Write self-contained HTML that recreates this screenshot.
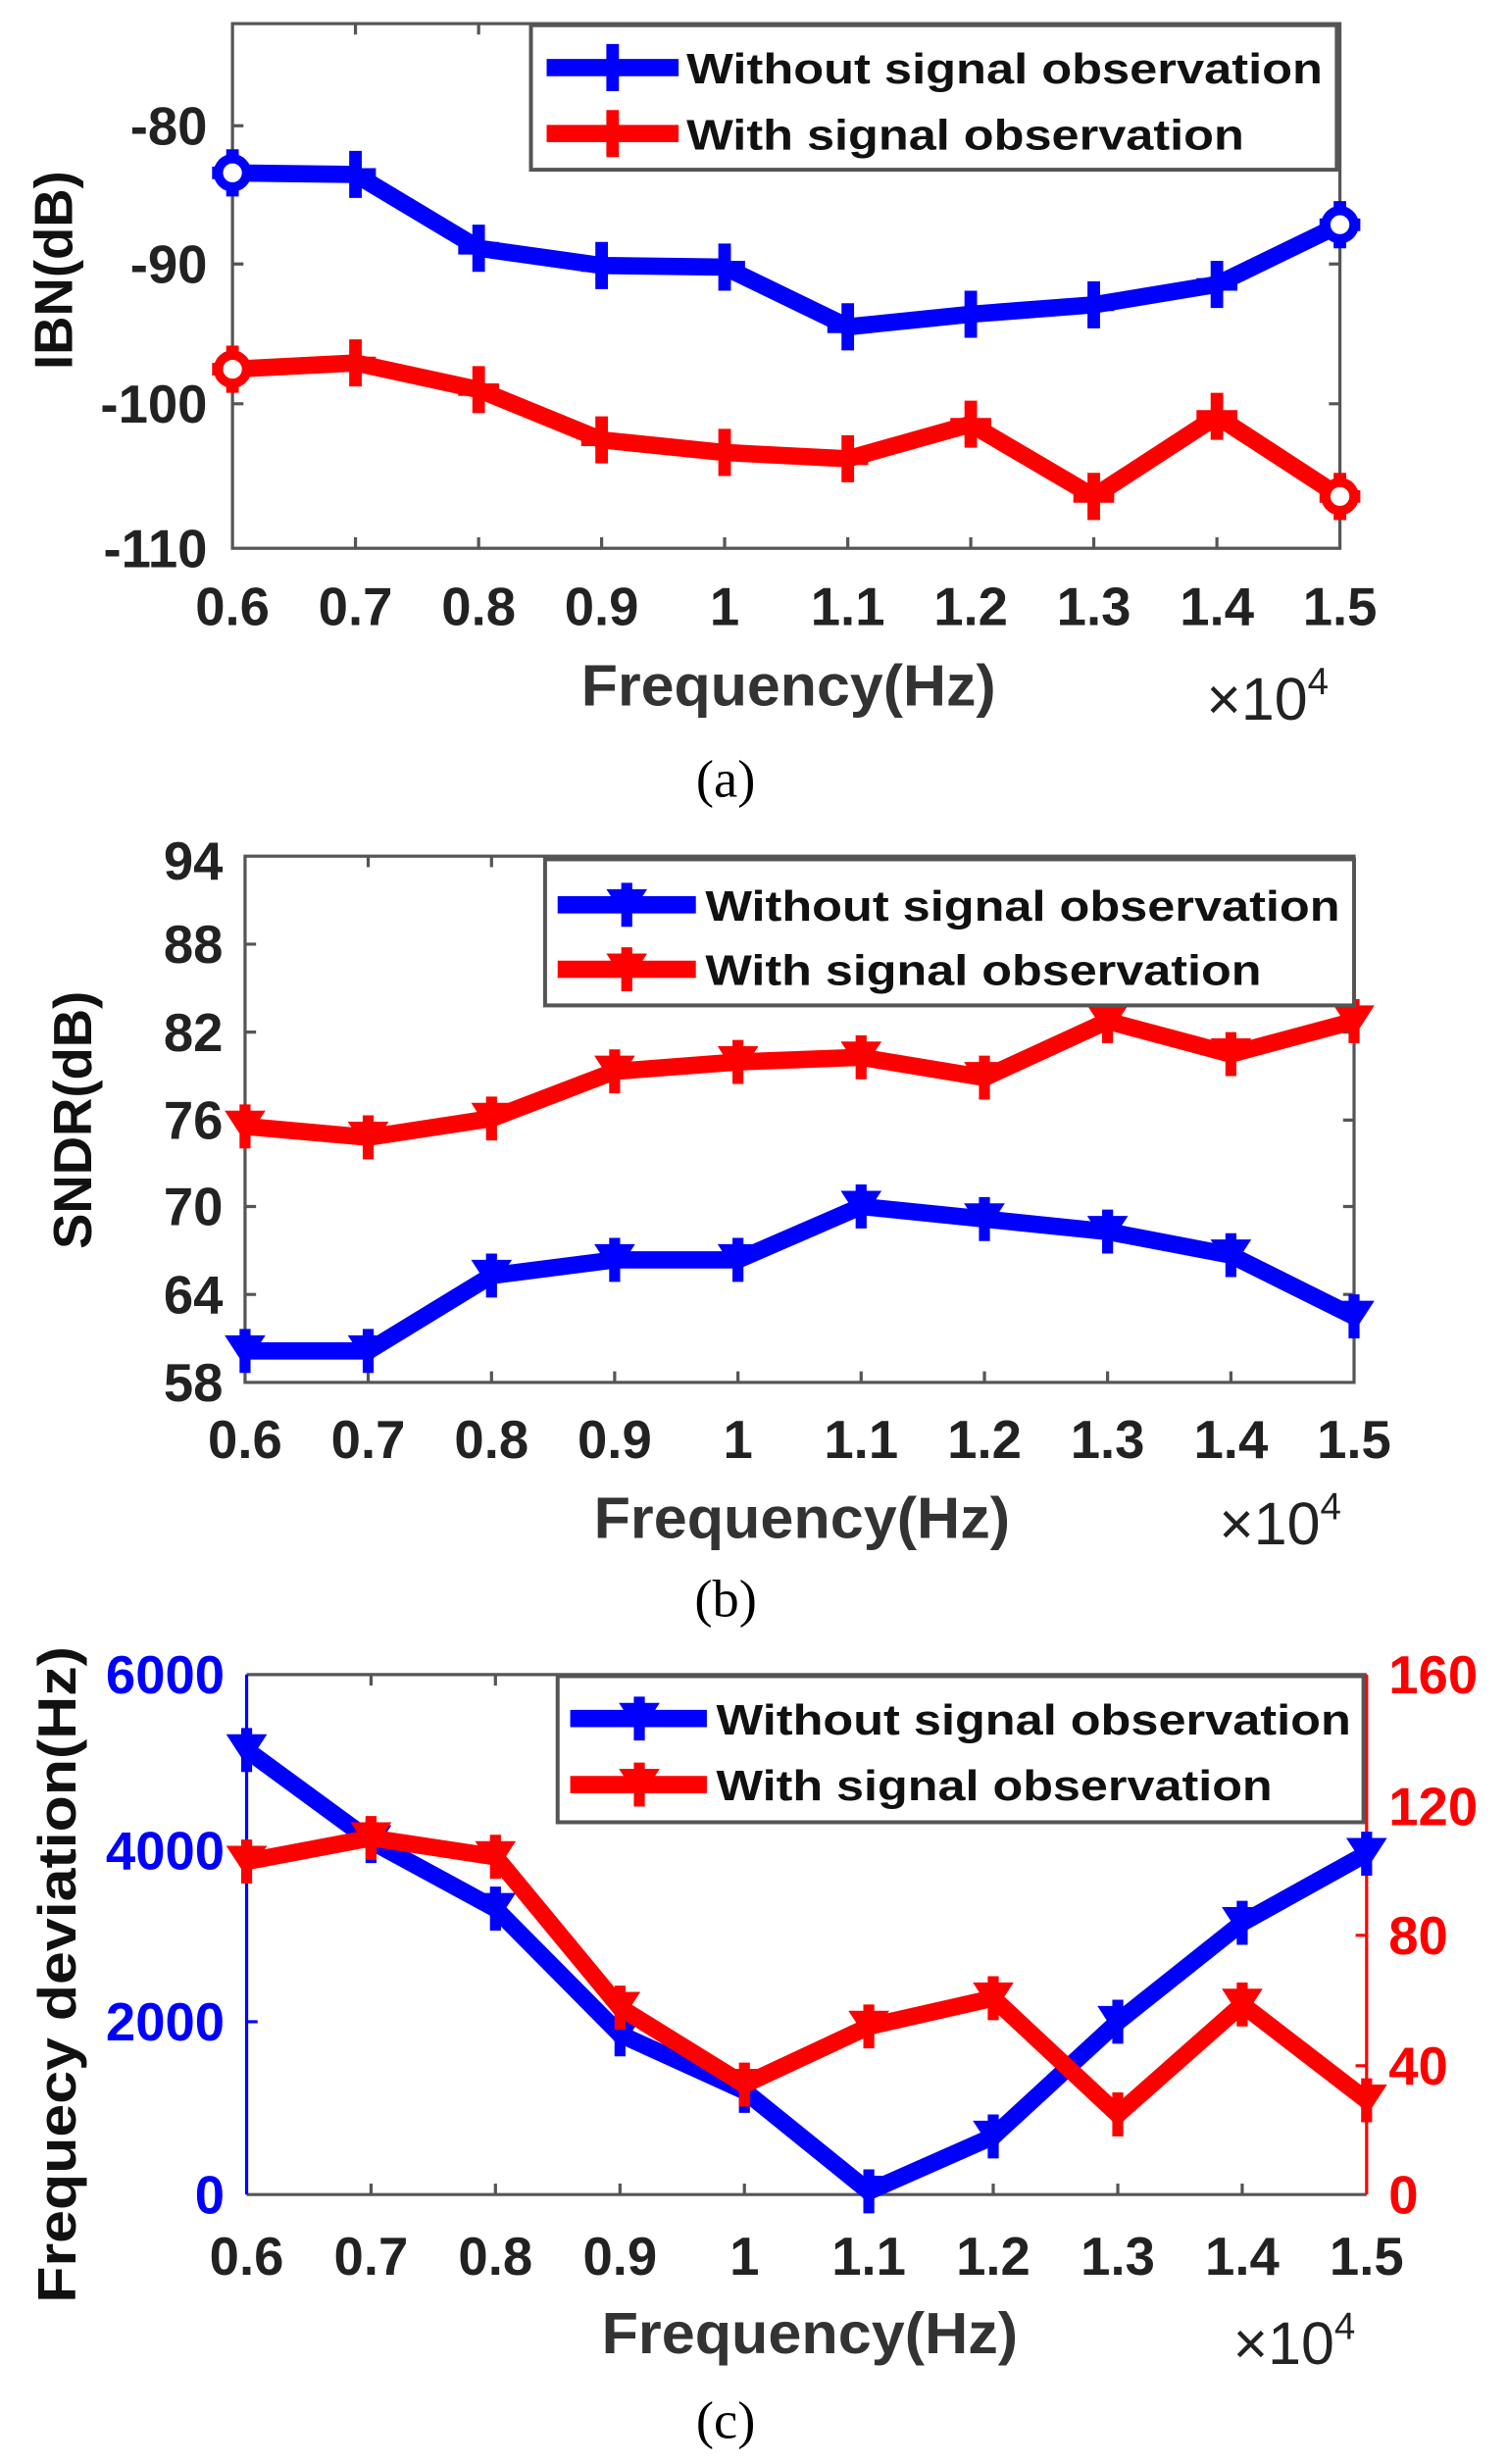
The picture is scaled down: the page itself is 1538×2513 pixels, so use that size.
<!DOCTYPE html>
<html><head><meta charset="utf-8"><style>
html,body{margin:0;padding:0;background:#fff;}
svg{display:block;}
text{font-family:"Liberation Sans",Arial,sans-serif;font-weight:bold;fill:#222;}
.tk{font-size:34px;}
.lg{font-size:27px;fill:#111;}
.xl{font-size:37px;fill:#333;}
.x4{font-weight:normal;font-size:38px;fill:#222;}
.cap{font-family:"Liberation Serif",serif;font-weight:normal;font-size:34px;fill:#000;}
.bl{fill:#00f;}
.rd{fill:#f00;}
</style></head><body>
<svg width="1538" height="2513" viewBox="0 0 960 1568.5" xmlns="http://www.w3.org/2000/svg">
<defs>
<marker id="pb" markerUnits="userSpaceOnUse" markerWidth="30" markerHeight="30" refX="15" refY="15" overflow="visible"><path d="M15 0V30M2 15H28" stroke="#00f" stroke-width="8"/></marker>
<marker id="pr" markerUnits="userSpaceOnUse" markerWidth="30" markerHeight="30" refX="15" refY="15" overflow="visible"><path d="M15 0V30M2 15H28" stroke="#f00" stroke-width="8"/></marker>
<marker id="tb" markerUnits="userSpaceOnUse" markerWidth="30" markerHeight="30" refX="15" refY="15" overflow="visible"><path d="M2 5H28L15 25Z" fill="#00f"/><path d="M15 1V29" stroke="#00f" stroke-width="7"/></marker>
<marker id="tr" markerUnits="userSpaceOnUse" markerWidth="30" markerHeight="30" refX="15" refY="15" overflow="visible"><path d="M2 5H28L15 25Z" fill="#f00"/><path d="M15 1V29" stroke="#f00" stroke-width="7"/></marker>
</defs>

<!-- (a) -->
<rect x="148" y="15" width="705" height="334" fill="none" stroke="#555" stroke-width="2"/>
<g stroke="#555" stroke-width="2">
<path d="M226.3 349v-7M304.7 349v-7M383 349v-7M461.3 349v-7M539.7 349v-7M618 349v-7M696.3 349v-7M774.7 349v-7M226.3 15v7M304.7 15v7M383 15v7M461.3 15v7M539.7 15v7M618 15v7M696.3 15v7M774.7 15v7M148 80h7M148 168h7M148 257h7M853 80h-7M853 168h-7M853 257h-7"/>
</g>
<polyline fill="none" stroke="#00f" stroke-width="11" stroke-linejoin="round" marker-start="url(#pb)" marker-mid="url(#pb)" marker-end="url(#pb)" points="148,110 226.3,111 304.7,158 383,169 461.3,170 539.7,208 618,200 696.3,194 774.7,181 853,143"/>
<polyline fill="none" stroke="#f00" stroke-width="11" stroke-linejoin="round" marker-start="url(#pr)" marker-mid="url(#pr)" marker-end="url(#pr)" points="148,235 226.3,231 304.7,248 383,280 461.3,288 539.7,292 618,270 696.3,316 774.7,265 853,316"/>
<circle cx="148" cy="110" r="9" fill="#fff" stroke="#00f" stroke-width="6"/>
<circle cx="853" cy="143" r="9" fill="#fff" stroke="#00f" stroke-width="6"/>
<circle cx="148" cy="235" r="9" fill="#fff" stroke="#f00" stroke-width="6"/>
<circle cx="853" cy="316" r="9" fill="#fff" stroke="#f00" stroke-width="6"/>
<rect x="338" y="16" width="513" height="92" fill="#fff" stroke="#555" stroke-width="2.5"/>
<path d="M348 43H432" stroke="#00f" stroke-width="11"/><path d="M390 28V58M376 43H404" stroke="#00f" stroke-width="8"/>
<path d="M348 85H432" stroke="#f00" stroke-width="11"/><path d="M390 70V100M376 85H404" stroke="#f00" stroke-width="8"/>
<text class="lg" x="437" y="53" textLength="405" lengthAdjust="spacingAndGlyphs">Without signal observation</text>
<text class="lg" x="437" y="95" textLength="355" lengthAdjust="spacingAndGlyphs">With signal observation</text>
<g class="tk" text-anchor="end">
<text x="132" y="92">-80</text><text x="132" y="180">-90</text><text x="132" y="269">-100</text><text x="132" y="361">-110</text>
</g>
<g class="tk" text-anchor="middle">
<text x="148" y="398">0.6</text><text x="226.3" y="398">0.7</text><text x="304.7" y="398">0.8</text><text x="383" y="398">0.9</text><text x="461.3" y="398">1</text><text x="539.7" y="398">1.1</text><text x="618" y="398">1.2</text><text x="696.3" y="398">1.3</text><text x="774.7" y="398">1.4</text><text x="853" y="398">1.5</text>
</g>
<text class="xl" x="370" y="449" textLength="264" lengthAdjust="spacingAndGlyphs">Frequency(Hz)</text>
<text class="x4" x="768" y="458">×10<tspan dy="-16" font-size="24">4</tspan></text>
<text class="xl" transform="translate(46,172) rotate(-90)" text-anchor="middle" style="font-size:34px;fill:#111">IBN(dB)</text>
<text class="cap" x="462" y="507" text-anchor="middle">(a)</text>

<!-- (b) -->
<rect x="156" y="545" width="706" height="335" fill="none" stroke="#555" stroke-width="2"/>
<g stroke="#555" stroke-width="2">
<path d="M234.4 880v-7M312.9 880v-7M391.3 880v-7M469.8 880v-7M548.2 880v-7M626.7 880v-7M705.1 880v-7M783.6 880v-7M234.4 545v7M312.9 545v7M391.3 545v7M469.8 545v7M548.2 545v7M626.7 545v7M705.1 545v7M783.6 545v7M156 601h7M156 657h7M156 713h7M156 768h7M156 824h7M862 601h-7M862 657h-7M862 713h-7M862 768h-7M862 824h-7"/>
</g>
<polyline fill="none" stroke="#00f" stroke-width="11" stroke-linejoin="round" marker-start="url(#tb)" marker-mid="url(#tb)" marker-end="url(#tb)" points="156,860 234.4,860 312.9,812 391.3,802 469.8,802 548.2,768 626.7,776 705.1,784 783.6,799 862,838"/>
<polyline fill="none" stroke="#f00" stroke-width="11" stroke-linejoin="round" marker-start="url(#tr)" marker-mid="url(#tr)" marker-end="url(#tr)" points="156,717 234.4,724 312.9,712 391.3,682 469.8,676 548.2,673 626.7,686 705.1,650 783.6,671 862,650"/>
<rect x="347" y="547" width="515" height="93" fill="#fff" stroke="#555" stroke-width="2.5"/>
<path d="M355 576H443" stroke="#00f" stroke-width="11"/><path d="M386 566H412L399 586Z" fill="#00f"/><path d="M399 562V590" stroke="#00f" stroke-width="7"/>
<path d="M355 617H443" stroke="#f00" stroke-width="11"/><path d="M386 607H412L399 627Z" fill="#f00"/><path d="M399 603V631" stroke="#f00" stroke-width="7"/>
<text class="lg" x="449" y="586" textLength="404" lengthAdjust="spacingAndGlyphs">Without signal observation</text>
<text class="lg" x="449" y="627" textLength="354" lengthAdjust="spacingAndGlyphs">With signal observation</text>
<g class="tk" text-anchor="end">
<text x="142" y="560">94</text><text x="142" y="613">88</text><text x="142" y="669">82</text><text x="142" y="725">76</text><text x="142" y="780">70</text><text x="142" y="836">64</text><text x="142" y="892">58</text>
</g>
<g class="tk" text-anchor="middle">
<text x="156" y="928">0.6</text><text x="234.4" y="928">0.7</text><text x="312.9" y="928">0.8</text><text x="391.3" y="928">0.9</text><text x="469.8" y="928">1</text><text x="548.2" y="928">1.1</text><text x="626.7" y="928">1.2</text><text x="705.1" y="928">1.3</text><text x="783.6" y="928">1.4</text><text x="862" y="928">1.5</text>
</g>
<text class="xl" x="378" y="979" textLength="265" lengthAdjust="spacingAndGlyphs">Frequency(Hz)</text>
<text class="x4" x="776" y="983">×10<tspan dy="-16" font-size="24">4</tspan></text>
<text class="xl" transform="translate(58,713) rotate(-90)" text-anchor="middle" style="font-size:34px;fill:#111">SNDR(dB)</text>
<text class="cap" x="462" y="1029" text-anchor="middle">(b)</text>

<!-- (c) -->
<path d="M157 1066H870" stroke="#555" stroke-width="2"/>
<path d="M157 1397H870" stroke="#555" stroke-width="2"/>
<path d="M157 1066V1397" stroke="#00f" stroke-width="2"/>
<path d="M870 1066V1397" stroke="#f00" stroke-width="2"/>
<g stroke="#555" stroke-width="2">
<path d="M236.2 1397v-7M315.4 1397v-7M394.7 1397v-7M473.9 1397v-7M553.1 1397v-7M632.3 1397v-7M711.6 1397v-7M790.8 1397v-7M236.2 1066v7M315.4 1066v7M394.7 1066v7M473.9 1066v7M553.1 1066v7M632.3 1066v7M711.6 1066v7M790.8 1066v7"/>
</g>
<path d="M157 1178h7M157 1287h7" stroke="#00f" stroke-width="2"/>
<path d="M870 1150h-7M870 1232h-7M870 1315h-7" stroke="#f00" stroke-width="2"/>
<polyline fill="none" stroke="#00f" stroke-width="11" stroke-linejoin="round" marker-start="url(#tb)" marker-mid="url(#tb)" marker-end="url(#tb)" points="157,1114 236.2,1172 315.4,1215 394.7,1295 473.9,1331 553.1,1395 632.3,1360 711.6,1287 790.8,1224 870,1180"/>
<polyline fill="none" stroke="#f00" stroke-width="11" stroke-linejoin="round" marker-start="url(#tr)" marker-mid="url(#tr)" marker-end="url(#tr)" points="157,1185 236.2,1170 315.4,1182 394.7,1278 473.9,1327 553.1,1290 632.3,1272 711.6,1346 790.8,1276 870,1337"/>
<rect x="355" y="1067" width="513" height="93" fill="#fff" stroke="#555" stroke-width="2.5"/>
<path d="M363 1094H450" stroke="#00f" stroke-width="11"/><path d="M394 1084H420L407 1104Z" fill="#00f"/><path d="M407 1080V1108" stroke="#00f" stroke-width="7"/>
<path d="M363 1136H450" stroke="#f00" stroke-width="11"/><path d="M394 1126H420L407 1146Z" fill="#f00"/><path d="M407 1122V1150" stroke="#f00" stroke-width="7"/>
<text class="lg" x="456" y="1104" textLength="404" lengthAdjust="spacingAndGlyphs">Without signal observation</text>
<text class="lg" x="456" y="1146" textLength="354" lengthAdjust="spacingAndGlyphs">With signal observation</text>
<g text-anchor="end">
<text class="tk bl" x="143" y="1078">6000</text><text class="tk bl" x="143" y="1190">4000</text><text class="tk bl" x="143" y="1299">2000</text><text class="tk bl" x="143" y="1409">0</text>
</g>
<g>
<text class="tk rd" x="884" y="1078">160</text><text class="tk rd" x="884" y="1162">120</text><text class="tk rd" x="884" y="1244">80</text><text class="tk rd" x="884" y="1327">40</text><text class="tk rd" x="884" y="1409">0</text>
</g>
<g class="tk" text-anchor="middle">
<text x="157" y="1448">0.6</text><text x="236.2" y="1448">0.7</text><text x="315.4" y="1448">0.8</text><text x="394.7" y="1448">0.9</text><text x="473.9" y="1448">1</text><text x="553.1" y="1448">1.1</text><text x="632.3" y="1448">1.2</text><text x="711.6" y="1448">1.3</text><text x="790.8" y="1448">1.4</text><text x="870" y="1448">1.5</text>
</g>
<text class="xl" x="383" y="1498" textLength="265" lengthAdjust="spacingAndGlyphs">Frequency(Hz)</text>
<text class="x4" x="785" y="1505">×10<tspan dy="-16" font-size="24">4</tspan></text>
<text class="xl" transform="translate(48,1257) rotate(-90)" text-anchor="middle" textLength="418" lengthAdjust="spacingAndGlyphs" style="font-size:34px;fill:#111">Frequecy deviation(Hz)</text>
<text class="cap" x="462" y="1552" text-anchor="middle">(c)</text>
</svg>
</body></html>
